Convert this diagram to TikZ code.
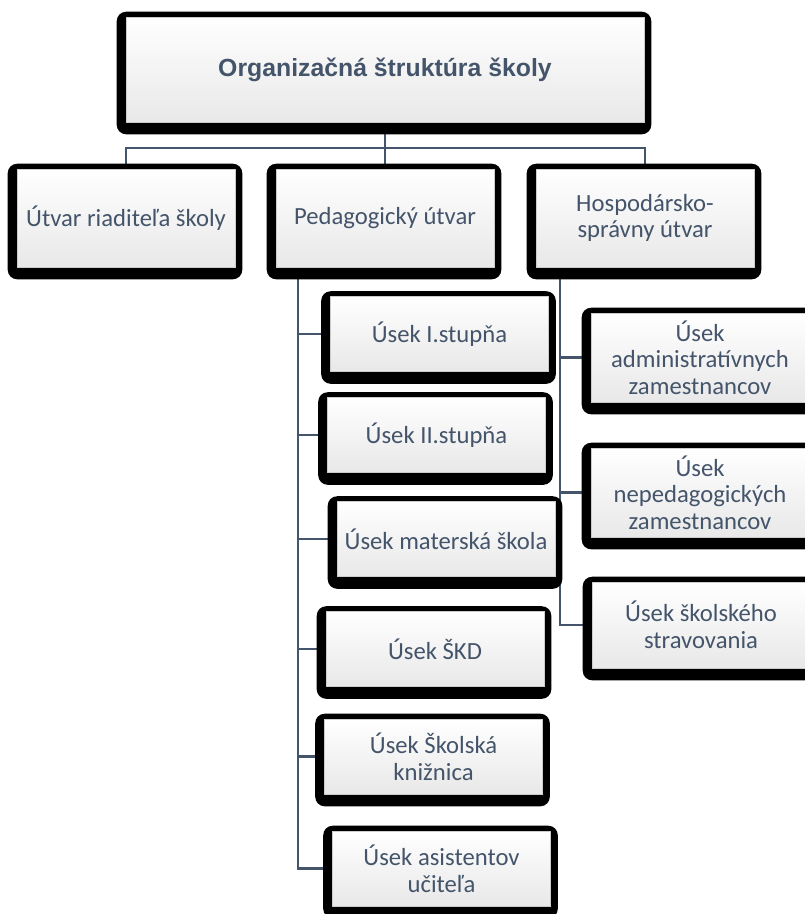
\documentclass[tikz,border=0pt]{standalone}
\usepackage{fontspec}
\setmainfont{Carlito}
\newfontfamily\titlefont{Liberation Sans}
\usetikzlibrary{backgrounds}
\definecolor{slate}{HTML}{44546A}
\begin{document}
\begin{tikzpicture}[x=.75pt,y=-.75pt,
  unit/.style={draw=gray!40,line width=.4pt,top color=white,middle color=white,bottom color=gray!18,
    text=slate,align=center,inner sep=0pt,font=\fontsize{18.5}{20}\selectfont,
    minimum width=163.5pt,minimum height=73.5pt},
  subunit/.style={unit,minimum height=56.25pt},
  link/.style={draw=slate,line width=1.6pt}]
  \useasboundingbox (0,0) rectangle (804,914);
  \node[unit,minimum width=388.5pt,minimum height=78.75pt,font=\titlefont\bfseries\fontsize{18.6}{20}\selectfont] (top) at (385,69.5) {Organizačná štruktúra školy};
  \node[unit] (ut) at (126,218) {Útvar riaditeľa školy};
  \node[unit] (ped) at (385,218) {Pedagogický útvar};
  \node[unit] (hos) at (645,218) {Hospodársko-\\správny útvar};
  \node[subunit] (s1) at (439.5,334) {Úsek I.stupňa};
  \node[subunit] (s2) at (436.5,435) {Úsek II.stupňa};
  \node[subunit] (ms) at (446,539) {Úsek materská škola};
  \node[subunit] (skd) at (435,649) {Úsek ŠKD};
  \node[subunit] (kn) at (433.5,756.5) {Úsek Školská\\knižnica};
  \node[subunit] (as) at (441.5,868.5) {Úsek asistentov\\učiteľa};
  \node[unit,minimum height=66.75pt] (ad) at (700,357.5) {Úsek\\administratívnych\\zamestnancov};
  \node[unit,minimum height=66.75pt] (ne) at (700,492.5) {Úsek\\nepedagogických\\zamestnancov};
  \node[unit,minimum height=64.5pt] (st) at (701,625) {Úsek školského\\stravovania};
  \begin{scope}[on background layer]
    \draw[link] (top.south) -- ++(0,26) coordinate (hub);
    \draw[link] (ut.north) |- (hub) -| (hos.north) (hub) -- (ped.north);
    \draw[link] ([shift={(22,0)}]ped.south west) coordinate (pspine) |- (as.west);
    \foreach \c in {s1,s2,ms,skd,kn} \draw[link] (pspine) |- (\c.west);
    \draw[link] ([shift={(24,0)}]hos.south west) coordinate (hspine) |- (st.west);
    \foreach \c in {ad,ne} \draw[link] (hspine) |- (\c.west);
    \foreach \n in {top,ut,ped,hos,s1,s2,ms,skd,kn,as,ad,ne,st}
      \fill[black,rounded corners=7pt] ([shift={(-9,-5)}]\n.north west) rectangle ([shift={(7,12)}]\n.south east);
  \end{scope}
\end{tikzpicture}
\end{document}
